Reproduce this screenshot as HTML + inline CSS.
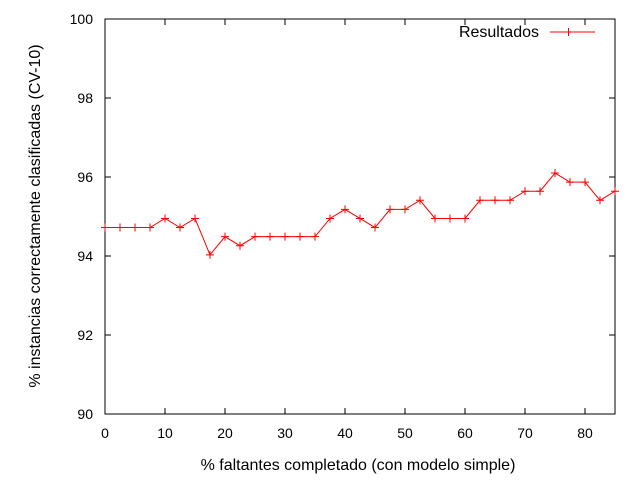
<!DOCTYPE html>
<html><head><meta charset="utf-8"><style>body{margin:0;background:#fff}svg{font-family:"Liberation Sans",sans-serif;font-size:14px}</style></head>
<body>
<svg id="chart" width="640" height="480">
<rect x="0" y="0" width="640" height="480" fill="#fff"/>
<g id="axes"></g>
<g id="series"></g>
<text x="358" y="470" text-anchor="middle" font-size="16">% faltantes completado (con modelo simple)</text>
<text transform="translate(40,216) rotate(-90)" text-anchor="middle" font-size="16">% instancias correctamente clasificadas (CV-10)</text>
<g>
<text x="539" y="37" text-anchor="end" font-size="16">Resultados</text>
<line x1="550" y1="32" x2="595" y2="32" stroke="#f00" stroke-width="1"/>
<path d="M568.5,28v8M564.5,32h8" stroke="#f00"/>
</g>
</svg>
<script>
const xValues=[0,2.5,5,7.5,10,12.5,15,17.5,20,22.5,25,27.5,30,32.5,35,37.5,40,42.5,45,47.5,50,52.5,55,57.5,60,62.5,65,67.5,70,72.5,75,77.5,80,82.5,85];
const yValues=[94.72,94.72,94.72,94.72,94.95,94.72,94.95,94.03,94.49,94.26,94.49,94.49,94.49,94.49,94.49,94.95,95.18,94.95,94.72,95.18,95.18,95.41,94.95,94.95,94.95,95.41,95.41,95.41,95.64,95.64,96.10,95.87,95.87,95.41,95.64];
const xTicks=[0,10,20,30,40,50,60,70,80];
const yTicks=[90,92,94,96,98,100];
const L=105,R=615,T=19,B=414;
const sx=v=>L+(v-0)/(85-0)*(R-L);
const sy=v=>B-(v-90)/(100-90)*(B-T);
const NS="http://www.w3.org/2000/svg";
const axes=document.getElementById('axes'),ser=document.getElementById('series');
function mk(tag,attrs,parent){const e=document.createElementNS(NS,tag);for(const k in attrs)e.setAttribute(k,attrs[k]);parent.appendChild(e);return e;}
const frame=mk('rect',{x:L,y:T,width:R-L,height:B-T,fill:'none',stroke:'#000'},axes);


xTicks.forEach(v=>{const x=sx(v);
 const t=mk('path',{d:`M${x},${B}v-6M${x},${T}v6`,stroke:'#000'},axes);
 
 
 const l=mk('text',{x:x,y:B+24,'text-anchor':'middle'},axes);l.textContent=v;
 
 });
yTicks.forEach(v=>{const y=sy(v);
 const t=mk('path',{d:`M${L},${y}h6M${R},${y}h-6`,stroke:'#000'},axes);
 
 
 const l=mk('text',{x:L-12,y:y+5,'text-anchor':'end'},axes);l.textContent=v;
 
 });
const pts=xValues.map((x,i)=>[sx(x),sy(yValues[i])]);
const line=mk('polyline',{points:pts.map(p=>p.join(',')).join(' '),fill:'none',stroke:'#f00','stroke-width':1},ser);


pts.forEach(p=>{const m=mk('path',{d:`M${p[0]-4},${p[1]}h8M${p[0]},${p[1]-4}v8`,stroke:'#f00'},ser);
 
 });
</script>
</body></html>
